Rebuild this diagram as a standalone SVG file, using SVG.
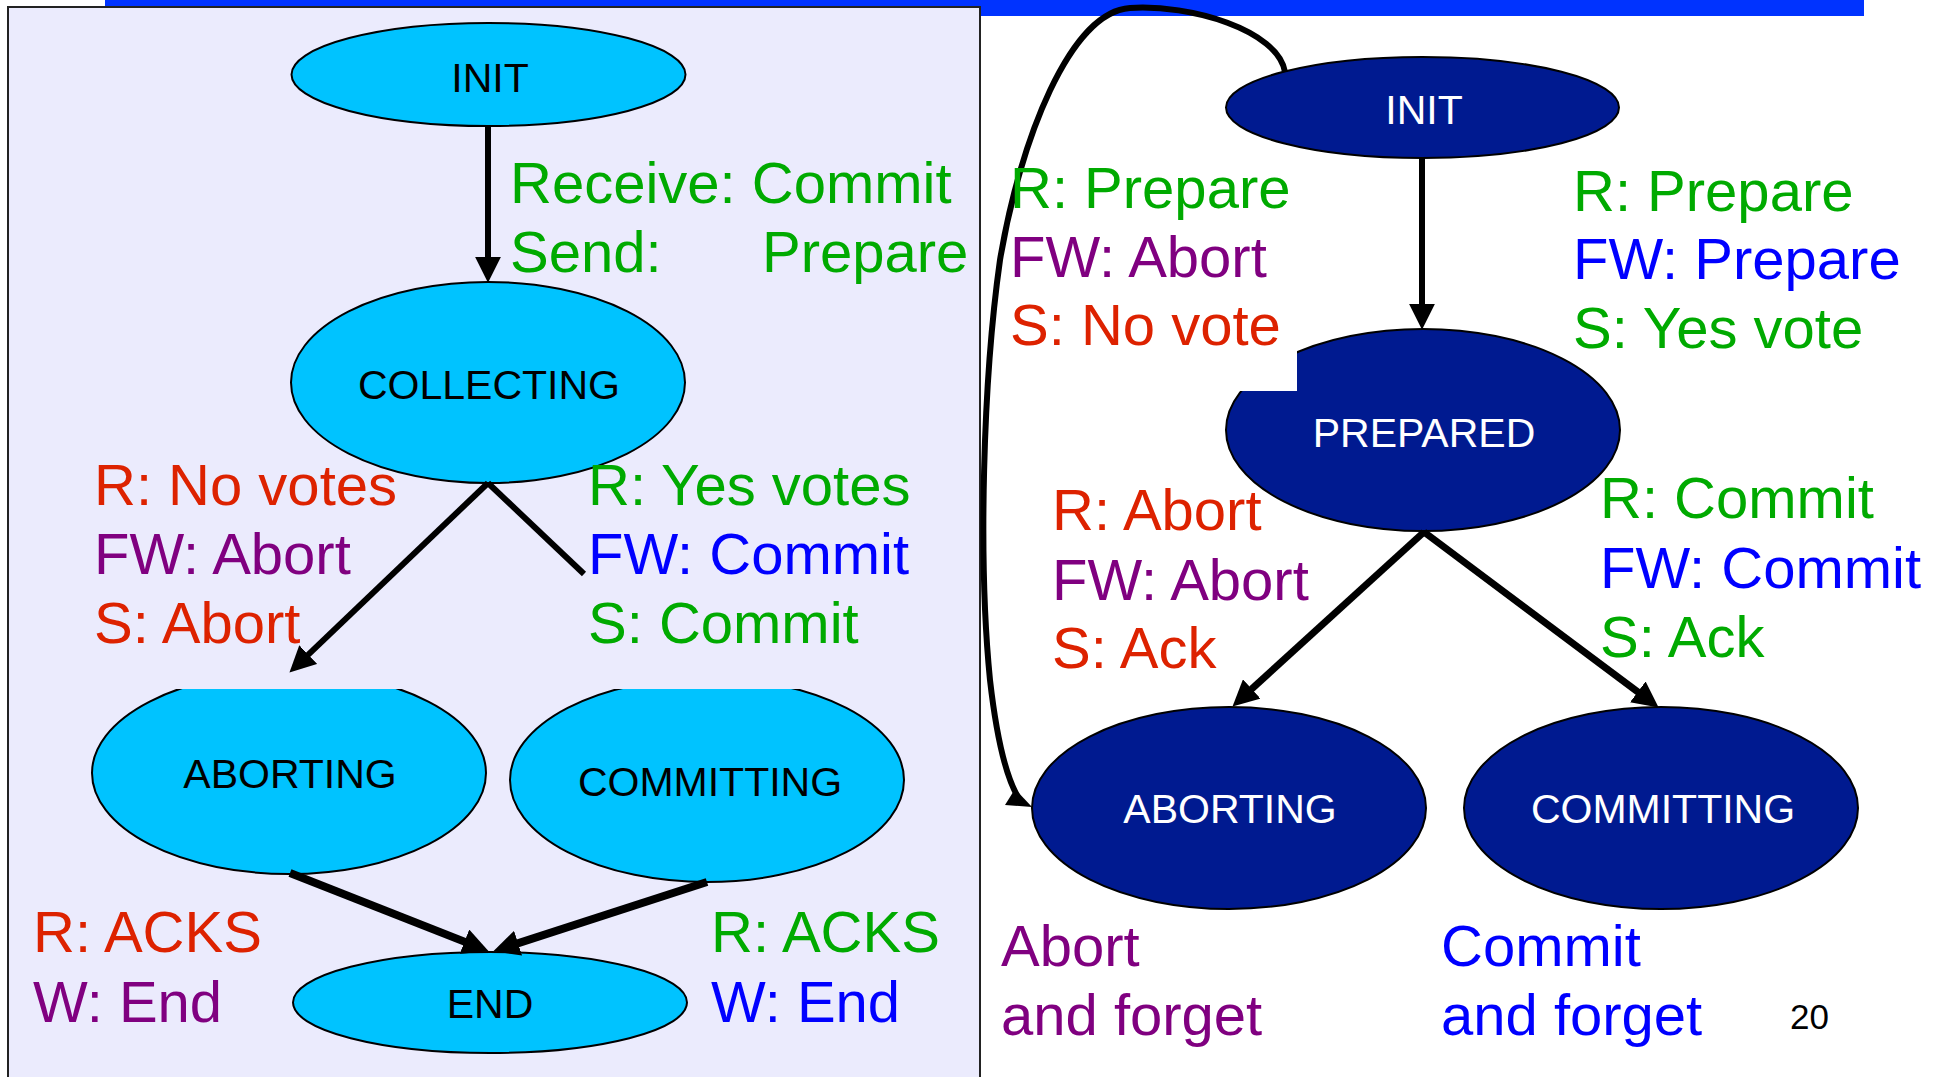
<svg xmlns="http://www.w3.org/2000/svg" width="1946" height="1077" viewBox="0 0 1946 1077">
  <style>
    text { font-family: "Liberation Sans", Arial, sans-serif; }
    .lbl { font-size: 58px; }
    .node-txt { font-size: 41px; text-anchor: middle; }
    .coord .node-txt { fill: #000000; }
    .part .node-txt { fill: #FFFFFF; }
    .coord ellipse { fill: #00C3FF; stroke: #000000; stroke-width: 2; }
    .part ellipse { fill: #001A90; stroke: #000000; stroke-width: 2; }
    .edge { fill: none; stroke: #000000; stroke-linecap: butt; }
    .red { fill: #DD2200; }
    .green { fill: #00AA00; }
    .purple { fill: #800080; }
    .blue { fill: #0000FF; }
  </style>
  <defs>
    <marker id="head" markerUnits="userSpaceOnUse" markerWidth="26" markerHeight="26" viewBox="0 0 24 24" refX="15" refY="12" orient="auto">
      <path d="M0,0 L24,12 L0,24 z" fill="#000000"/>
    </marker>
  </defs>

  <!-- page background and header strip -->
  <rect x="0" y="0" width="1946" height="1077" fill="#FFFFFF"/>
  <rect x="105" y="0" width="1759" height="16" fill="#0033FF"/>

  <!-- coordinator panel -->
  <rect x="8" y="7" width="972" height="1080" fill="#EBEBFD" stroke="#222222" stroke-width="2"/>

  <!-- coordinator states -->
  <g id="c-init" class="coord">
    <ellipse cx="488.5" cy="74.5" rx="197" ry="51.5"/>
    <text class="node-txt" x="490" y="92">INIT</text>
  </g>
  <g id="c-collecting" class="coord">
    <ellipse cx="488" cy="382.5" rx="197" ry="100.5"/>
    <text class="node-txt" x="489" y="399">COLLECTING</text>
  </g>
  <g id="c-aborting" class="coord">
    <ellipse cx="289" cy="773" rx="197" ry="101"/>
    <text class="node-txt" x="290" y="788">ABORTING</text>
  </g>
  <g id="c-committing" class="coord">
    <ellipse cx="707" cy="780" rx="197" ry="102"/>
    <text class="node-txt" x="710" y="796">COMMITTING</text>
  </g>
  <g id="c-end" class="coord">
    <ellipse cx="490" cy="1002.5" rx="197" ry="50.5"/>
    <text class="node-txt" x="490" y="1018">END</text>
  </g>
  <!-- label backing that trims the tops of the lower states -->
  <rect x="150" y="650" width="700" height="39" fill="#EBEBFD"/>

  <!-- participant states -->
  <g id="p-init" class="part">
    <ellipse cx="1422.5" cy="107.5" rx="196.5" ry="50.5"/>
    <text class="node-txt" x="1424" y="124">INIT</text>
  </g>
  <g id="p-prepared" class="part">
    <ellipse cx="1423" cy="430" rx="197" ry="101"/>
    <text class="node-txt" x="1424" y="447">PREPARED</text>
  </g>
  <g id="p-aborting" class="part">
    <ellipse cx="1229" cy="808" rx="197" ry="101"/>
    <text class="node-txt" x="1230" y="823">ABORTING</text>
  </g>
  <g id="p-committing" class="part">
    <ellipse cx="1661" cy="808" rx="197" ry="101"/>
    <text class="node-txt" x="1663" y="823">COMMITTING</text>
  </g>
  <!-- label backing for "S: No vote" -->
  <rect x="1230" y="340" width="67" height="51" fill="#FFFFFF"/>

  <!-- transitions -->
  <g id="connectors">
    <line class="edge" stroke-width="6" x1="488" y1="126" x2="488" y2="273" marker-end="url(#head)"/>
    <line class="edge" stroke-width="6" x1="488" y1="483" x2="296.5" y2="665.8" marker-end="url(#head)"/>
    <line class="edge" stroke-width="6" x1="488" y1="483" x2="584" y2="574"/>
    <line class="edge" stroke-width="8" x1="290" y1="873" x2="479.6" y2="947.6" marker-end="url(#head)"/>
    <line class="edge" stroke-width="8" x1="707" y1="882" x2="502.6" y2="948.2" marker-end="url(#head)"/>
    <line class="edge" stroke-width="6" x1="1422" y1="158" x2="1422" y2="320" marker-end="url(#head)"/>
    <line class="edge" stroke-width="7" x1="1424" y1="532" x2="1239.7" y2="699.9" marker-end="url(#head)"/>
    <line class="edge" stroke-width="7" x1="1424" y1="532" x2="1650.8" y2="701.6" marker-end="url(#head)"/>
    <path class="edge" stroke-width="6" d="M1285,72 C1278,30 1190,4 1130,8 C1070,12 1020,140 1000,260 C983,380 978,560 990,680 C998,750 1008,780 1018,797"/>
    <polygon points="1005,805 1015,789 1032,807" fill="#000000"/>
  </g>

  <!-- coordinator transition labels -->
  <g id="c-labels" class="lbl">
    <text class="green" x="510" y="203">Receive: Commit</text>
    <text class="green" y="272"><tspan x="510">Send:</tspan><tspan x="762">Prepare</tspan></text>
    <text class="red" x="94" y="505">R: No votes</text>
    <text class="purple" x="94" y="574">FW: Abort</text>
    <text class="red" x="94" y="643">S: Abort</text>
    <text class="green" x="588" y="505">R: Yes votes</text>
    <text class="blue" x="588" y="574">FW: Commit</text>
    <text class="green" x="588" y="643">S: Commit</text>
    <text class="red" x="33" y="952">R: ACKS</text>
    <text class="purple" x="33" y="1022">W: End</text>
    <text class="green" x="711" y="952">R: ACKS</text>
    <text class="blue" x="711" y="1022">W: End</text>
  </g>

  <!-- participant transition labels -->
  <g id="p-labels" class="lbl">
    <text class="green" x="1010" y="208">R: Prepare</text>
    <text class="purple" x="1010" y="277">FW: Abort</text>
    <text class="red" x="1010" y="345">S: No vote</text>
    <text class="green" x="1573" y="211">R: Prepare</text>
    <text class="blue" x="1573" y="279">FW: Prepare</text>
    <text class="green" x="1573" y="348">S: Yes vote</text>
    <text class="red" x="1052" y="530">R: Abort</text>
    <text class="purple" x="1052" y="600">FW: Abort</text>
    <text class="red" x="1052" y="668">S: Ack</text>
    <text class="green" x="1600" y="518">R: Commit</text>
    <text class="blue" x="1600" y="588">FW: Commit</text>
    <text class="green" x="1600" y="657">S: Ack</text>
    <text class="purple" x="1001" y="966">Abort</text>
    <text class="purple" x="1001" y="1035">and forget</text>
    <text class="blue" x="1441" y="966">Commit</text>
    <text class="blue" x="1441" y="1035">and forget</text>
  </g>

  <!-- slide number -->
  <text x="1790" y="1029" font-size="35" fill="#000000">20</text>
</svg>
